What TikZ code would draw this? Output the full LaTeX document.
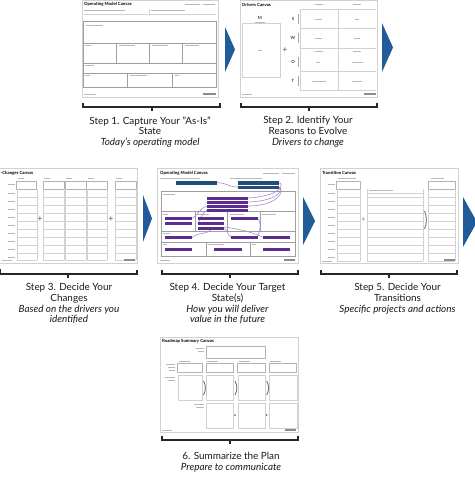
\documentclass[tikz,border=0pt]{standalone}
\usepackage{fontspec}
\setmainfont{Lato}
\definecolor{arrowblue}{HTML}{1F5C99}
\definecolor{barblue}{HTML}{1F4E79}
\definecolor{barpurple}{HTML}{5C2D91}
\definecolor{linkpurple}{HTML}{A88CCB}
\begin{document}
\begin{tikzpicture}[x=1pt,y=-1pt,
  canvas/.style={draw=black!18,fill=white,line width=0.6},
  ctitle/.style={anchor=west,inner sep=0,font=\fontsize{4.3}{5}\selectfont\bfseries},
  gbox/.style={draw=black!38,line width=1},
  thin/.style={draw=black!18,line width=0.4},
  tiny/.style={draw=black!28,line width=0.5},
  letter/.style={inner sep=0,font=\fontsize{4.3}{5}\selectfont\bfseries,text=black!75},
  plus/.style={inner sep=0,font=\fontsize{8}{8}\selectfont\bfseries,text=black!55},
  pbar/.style={fill=barpurple,draw=none},
  bbar/.style={fill=barblue,draw=none},
  link/.style={draw=linkpurple,line width=0.6},
  steparrow/.style={fill=arrowblue,draw=none},
  brk/.style={draw=black!85,line width=1.1},
  lbl/.style={align=center,anchor=north,inner sep=0,font=\fontsize{9.9}{10.6}\selectfont,text=black!90},
  logo/.style={fill=black!45,draw=none}
]
\useasboundingbox (0,0) rectangle (474,479);

% ================= Canvas 1: Operating Model Canvas =================
\draw[canvas] (82,0.5) rectangle (218,97);
\node[ctitle] (t1) at (84,4.5) {Operating Model Canvas};
\draw[tiny] (185,4.5) -- (200,4.5) (203,4.5) -- (215,4.5);
\draw[tiny] (84,10.5) -- (125,10.5) (151,10.5) -- (185,10.5);
\draw[thin] (84,14) -- (148,14) (150,14) -- (216,14);
\draw[thin] (149,9) -- (149,16);
\draw[gbox] (83.3,21.7) rectangle (216.7,87);
\draw[gbox] (83.3,43.3) -- (216.7,43.3) (83.3,63.3) -- (216.7,63.3) (83.3,73.3) -- (216.7,73.3);
\draw[gbox] (116,43.3) -- (116,63.3) (149.3,43.3) -- (149.3,63.3) (182.7,43.3) -- (182.7,63.3);
\draw[gbox] (127.7,73.3) -- (127.7,87) (172,73.3) -- (172,87);
\draw[tiny] (86,25) -- (103,25) (85,45.5) -- (91,45.5) (118.5,45.5) -- (135,45.5)
  (151.5,45.5) -- (168,45.5) (185,45.5) -- (199,45.5) (85,65.5) -- (94,65.5)
  (85,75.5) -- (90,75.5) (130,75.5) -- (147,75.5) (174.5,75.5) -- (179,75.5);
\draw[tiny] (84,94.5) -- (96,94.5);
\fill[logo] (203,93.3) rectangle (216,95.3);

% ================= Canvas 2: Drivers Canvas =================
\draw[canvas] (240,0.5) rectangle (377,97);
\node[ctitle] (t2) at (242,4.5) {Drivers Canvas};
\node[letter] (m) at (260,18) {M};
\draw[tiny] (255,22) -- (265,22);
\draw[thin] (242,23.3) rectangle (280,77);
\draw[tiny] (258,50) -- (262,50);
\node[plus] (p2) at (285,50) {+};
\node[letter] (s) at (293,19) {S};
\node[letter] (w) at (293,38) {W};
\node[letter] (o) at (293,62) {O};
\node[letter] (tt) at (293,81) {T};
\draw[draw=black!35,line width=0.6] (298,14) -- (298,24) (298,33) -- (298,43) (298,57) -- (298,67) (298,76) -- (298,86);
\draw[thin] (300,9.3) -- (376,9.3) (300,28.3) -- (376,28.3) (300,47.7) -- (376,47.7) (300,71) -- (376,71) (300,90) -- (376,90);
\draw[thin] (338,9.3) -- (338,90) (300,9.3) -- (300,90);
\draw[tiny] (315,4.5) -- (323,4.5) (353,4.5) -- (361,4.5) (315,51) -- (323,51) (353,51) -- (361,51)
  (315,19) -- (322,19) (355,19) -- (359,19) (315,38) -- (322,38) (354,38) -- (360,38)
  (316,62) -- (320,62) (352,62) -- (363,62) (312,81) -- (326,81) (352,81) -- (362,81);
\draw[tiny] (242,94.5) -- (252,94.5);
\fill[logo] (364,93.3) rectangle (376,95.3);

% step arrows row 1
\fill[steparrow] (225,27) -- (235,49.5) -- (225,72) -- cycle;
\fill[steparrow] (382,23) -- (393,47.5) -- (382,72) -- cycle;

% brackets row 1
\draw[brk] (83,103) -- (83,107) -- (220,107) -- (220,103);
\draw[brk] (152,107) -- (152,111);
\draw[brk] (241,103) -- (241,107) -- (377,107) -- (377,103);
\draw[brk] (309,107) -- (309,111);

\node[lbl] (l1) at (150,116.5) {Step 1. Capture Your "As-Is"\\State\\\textit{Today’s operating model}};
\node[lbl] (l2) at (308,116.5) {Step 2. Identify Your\\Reasons to Evolve\\\textit{Drivers to change}};

% ================= Canvas 3: Changes Canvas =================
\draw[canvas] (-2,168) rectangle (137,263);
\node[ctitle] (t3) at (0.5,173) {-Changes Canvas};
\foreach \xa/\xb in {16.7/36.7,43.3/64.3,65/86,86.7/107.3,115/136}{
  \draw[draw=black!30,line width=0.5] (\xa,181) rectangle (\xb,189);
  \draw[tiny] (\xa+1,178) -- (\xa+7,178);
  \draw[thin] (\xa,189) -- (\xa,260) (\xb,189) -- (\xb,260);
  \foreach \yy in {197,205,213,221,229,237,245,253,260}{
    \draw[thin] (\xa,\yy) -- (\xb,\yy);
  }
}
\foreach \yy in {184,193,201,209,217,225,233,241,249,257}{
  \draw[tiny] (8,\yy) -- (14.5,\yy);
}
\node[plus] (p3a) at (40,219) {+};
\node[plus] (p3b) at (111,219) {+};
\draw[tiny] (2,260.5) -- (12,260.5);
\fill[logo] (124,258.5) rectangle (135,260.5);

\fill[steparrow] (143,195) -- (152,218.5) -- (143,242) -- cycle;

% ================= Canvas 4: Operating Model Canvas (target) =================
\draw[canvas] (157,168) rectangle (298,263);
\node[ctitle] (t4) at (160,173) {Operating Model Canvas};
\draw[tiny] (263,173) -- (279,173) (282,173) -- (295,173);
\draw[tiny] (160,178.5) -- (200,178.5) (230,178.5) -- (262,178.5);
\draw[gbox] (161,191.7) rectangle (295,256.7);
\draw[gbox] (161,211.7) -- (295,211.7) (161,231) -- (295,231) (161,242.3) -- (295,242.3);
\draw[gbox] (195,211.7) -- (195,231) (227.7,211.7) -- (227.7,231) (260,211.7) -- (260,231);
\draw[gbox] (206,242.3) -- (206,256.7) (250,242.3) -- (250,256.7);
\draw[tiny] (163,194) -- (175,194) (163,214) -- (168,214) (197,214) -- (209,214)
  (230,214) -- (244,214) (262,214) -- (276,214) (163,233.3) -- (170,233.3)
  (163,244.5) -- (167,244.5) (208,244.5) -- (224,244.5) (252,244.5) -- (256,244.5);
% links
\draw[link] (216.7,182.7) .. controls (227,182.7) and (228,187) .. (238,187);
\draw[link] (279,183) .. controls (284,183) and (283,196) .. (247.7,198);
\draw[link] (279,187) .. controls (283,188) and (281,201) .. (247.7,202);
\draw[link] (279,187.5) .. controls (285,190) and (279,206) .. (247.7,206);
\draw[link] (207.3,206) .. controls (201,207) and (200,213) .. (192.3,218.3);
\draw[link] (207.3,210) .. controls (202,212) and (201,219) .. (197.7,223.5);
\draw[link] (211,229.7) .. controls (208,234) and (196,233) .. (192.3,237.5);
\draw[link] (224,228.5) .. controls (228,231) and (228,235) .. (231,237.5);
\draw[link] (224,227) .. controls (240,229) and (255,233) .. (263.3,237.5);
\draw[link] (257.7,218) .. controls (261,222) and (261,230) .. (257.7,236);
% bars
\fill[bbar] (176,181) rectangle (216.7,184.5);
\fill[bbar] (238,181) rectangle (279,184.5);
\fill[bbar] (238,185.5) rectangle (279,189);
\foreach \yy in {196.5,200.5,204.5,208.5}{\fill[pbar] (207.3,\yy) rectangle (247.7,\yy+3);}
\foreach \yy in {216.7,221.7}{\fill[pbar] (165,\yy) rectangle (192.3,\yy+3);}
\foreach \yy in {216.7,221.7,226.7}{\fill[pbar] (197.7,\yy) rectangle (224,\yy+3);}
\fill[pbar] (231,216.7) rectangle (257.7,219.7);
\fill[pbar] (165,236) rectangle (192.3,239);
\fill[pbar] (231,236) rectangle (257.7,239);
\fill[pbar] (263.3,236) rectangle (290,239);
\fill[pbar] (165,247.7) rectangle (192.3,250.7);
\fill[pbar] (214.3,247.7) rectangle (241.7,250.7);
\fill[pbar] (263.3,247.7) rectangle (290,250.7);
\draw[tiny] (160,260.5) -- (170,260.5);
\fill[logo] (284,258.5) rectangle (295,260.5);

\fill[steparrow] (303,197) -- (315,221) -- (303,245) -- cycle;

% ================= Canvas 5: Transition Canvas =================
\draw[canvas] (320,168) rectangle (458,263);
\node[ctitle] (t5) at (322,173) {Transition Canvas};
\draw[draw=black!30,line width=0.5] (336.7,181) rectangle (360,189.3);
\draw[draw=black!30,line width=0.5] (428.3,181) rectangle (455,189.3);
\draw[tiny] (338,178) -- (356,178) (431,178) -- (444,178) (369,190.5) -- (393,190.5);
\foreach \xa/\xb in {336.7/360,367.3/423.3,428.3/455}{
  \draw[thin] (\xa,189.3) -- (\xa,261) (\xb,189.3) -- (\xb,261);
  \foreach \yy in {197,205,213,221,229,237,245,253,261}{
    \draw[thin] (\xa,\yy) -- (\xb,\yy);
  }
}
\draw[thin] (367.3,193) -- (423.3,193);
\foreach \yy in {184,193,201,209,217,225,233,241,249,257}{
  \draw[tiny] (328,\yy) -- (334.5,\yy);
}
\node[plus,font=\fontsize{6}{6}\selectfont\bfseries] (p5) at (363.3,220) {+};
\draw[draw=black!55,line width=0.9] (424.5,211) .. controls (427,216) and (427,224) .. (424.5,229);
\draw[tiny] (322,261) -- (332,261);
\fill[logo] (444,259) rectangle (455,261);

\fill[steparrow] (463,197) -- (477,222) -- (463,247) -- cycle;

% brackets row 2
\draw[brk] (0.5,269) -- (0.5,274) -- (137,274) -- (137,270);
\draw[brk] (68,274) -- (68,278);
\draw[brk] (162,270) -- (162,274) -- (298,274) -- (298,270);
\draw[brk] (230,274) -- (230,278);
\draw[brk] (321,270) -- (321,274) -- (457,274) -- (457,270);
\draw[brk] (389,274) -- (389,278);

\node[lbl] (l3) at (69,283.5) {Step 3. Decide Your\\Changes\\\textit{Based on the drivers you}\\\textit{identified}};
\node[lbl] (l4) at (227.5,283.5) {Step 4. Decide Your Target\\State(s)\\\textit{How you will deliver}\\\textit{value in the future}};
\node[lbl] (l5) at (397.5,283.5) {Step 5. Decide Your\\Transitions\\\textit{Specific projects and actions}};

% ================= Canvas 6: Roadmap Summary Canvas =================
\draw[canvas] (160,337) rectangle (298,432);
\node[ctitle] (t6) at (162,341.5) {Roadmap Summary Canvas};
\draw[draw=black!30,line width=0.5] (206.7,346.7) rectangle (265,358.3);
\draw[tiny] (196,348) -- (204,348) (198,351) -- (204,351);
\foreach \xa/\xb in {177.7/202.3,206/233.3,237.7/265,269.3/296.7}{
  \draw[draw=black!30,line width=0.5] (\xa,363.3) rectangle (\xb,372.3);
  \draw[tiny] (\xa+1,361) -- (\xa+12,361);
  \draw[thin] (\xa,375) rectangle (\xb,400);
}
\foreach \xa/\xb in {206/233.3,237.7/265,269.3/296.7}{
  \draw[thin] (\xa,402.7) rectangle (\xb,428.3);
}
\draw[tiny] (166,364) -- (175,364) (168,367) -- (175,367) (169,370) -- (175,370)
  (165,377) -- (175,377) (168,380) -- (175,380) (194,404) -- (204,404) (196,407) -- (204,407);
\foreach \xx in {203.5,235,266.7}{
  \draw[draw=black!55,line width=0.9] (\xx,381) .. controls (\xx+2.5,385) and (\xx+2.5,391) .. (\xx,395);
}
\fill[black!55] (235,415) circle (1);
\fill[black!55] (266.7,415) circle (1);
\draw[tiny] (162,430) -- (172,430);
\fill[logo] (285,428.5) rectangle (296,430.5);

% bracket 6
\draw[brk] (162,436) -- (162,440) -- (298,440) -- (298,436);
\draw[brk] (230,440) -- (230,444);
\node[lbl] (l6) at (231,452.5) {6. Summarize the Plan\\\textit{Prepare to communicate}};

\end{tikzpicture}
\end{document}
